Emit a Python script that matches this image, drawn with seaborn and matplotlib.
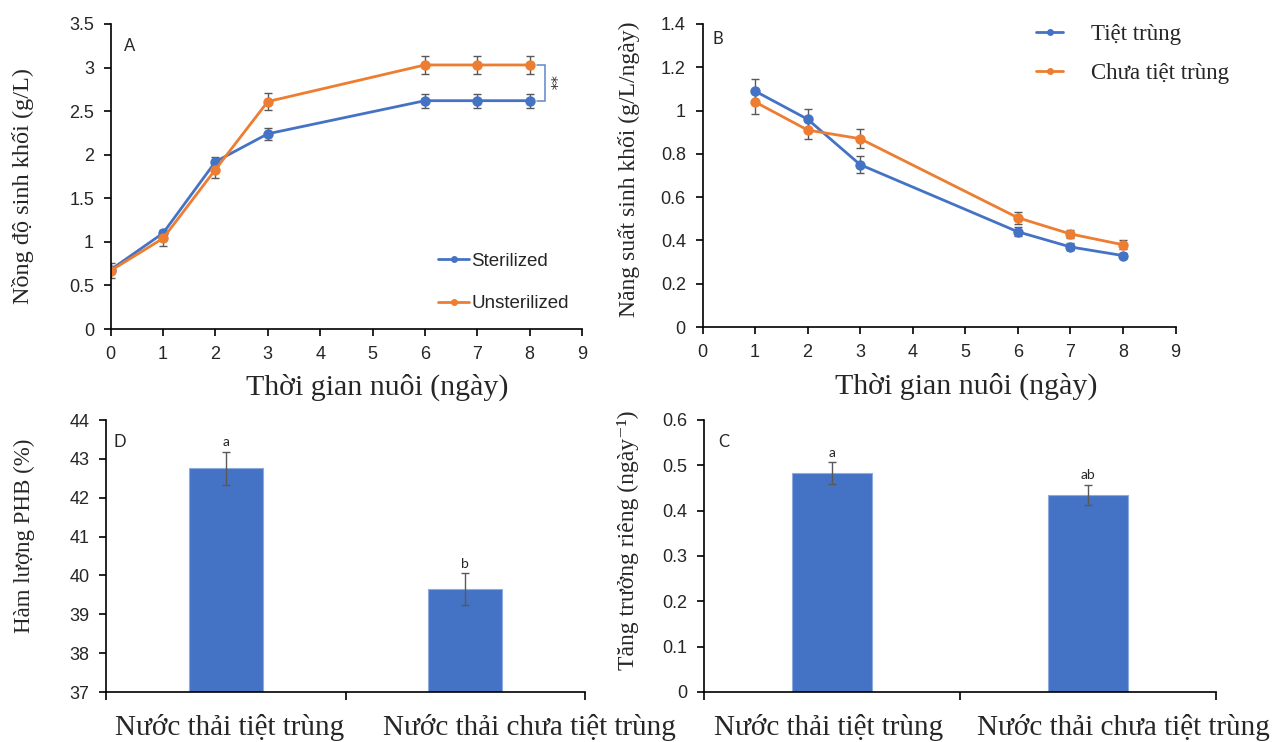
import numpy as np
import pandas as pd
import matplotlib
matplotlib.use("Agg")
import matplotlib.pyplot as plt
from matplotlib.lines import Line2D
from matplotlib.ticker import FuncFormatter, FixedLocator, NullFormatter
import seaborn as sns

# ---------------- data ----------------
days = [0, 1, 2, 3, 6, 7, 8]
biomass_sterile = [0.68, 1.10, 1.92, 2.24, 2.62, 2.62, 2.62]
biomass_sterile_err = [0.03, 0.04, 0.05, 0.07, 0.08, 0.08, 0.08]
biomass_unsterile = [0.67, 1.04, 1.83, 2.61, 3.03, 3.03, 3.03]
biomass_unsterile_err = [0.09, 0.09, 0.10, 0.10, 0.10, 0.10, 0.10]

prod_days = [1, 2, 3, 6, 7, 8]
prod_sterile = [1.09, 0.96, 0.75, 0.44, 0.37, 0.33]
prod_sterile_err = [0.055, 0.048, 0.039, 0.02, 0.016, 0.012]
prod_unsterile = [1.04, 0.91, 0.87, 0.505, 0.43, 0.38]
prod_unsterile_err = [0.054, 0.042, 0.045, 0.027, 0.02, 0.02]

treatments = ["Nước thải tiệt trùng", "Nước thải chưa tiệt trùng"]
phb = [42.76, 39.65]
phb_err = [0.42, 0.40]
phb_groups = ["a", "b"]
growth_rate = [0.483, 0.435]
growth_rate_err = [0.024, 0.022]
growth_groups = ["a", "ab"]

# ---------------- style ----------------
sns.set_style("ticks")
SANS = ["Liberation Sans", "DejaVu Sans"]
SERIF = ["Liberation Serif", "DejaVu Serif"]
LETTER = ["Lato", "DejaVu Sans"]
plt.rcParams["font.family"] = SANS
plt.rcParams["axes.linewidth"] = 1.2
plt.rcParams["axes.edgecolor"] = "black"

BLUE = "#4472C4"
ORANGE = "#ED7D31"
ERR = "#595959"

fig = plt.figure(figsize=(12.77, 7.42), dpi=100)
W, H = 1277, 742


def add_ax(left, right, top, bottom):
    return fig.add_axes([left / W, 1 - bottom / H, (right - left) / W, (bottom - top) / H])


axA = add_ax(110.7, 582, 24, 329)
axB = add_ax(702.5, 1175.5, 24, 327)
axD = add_ax(106, 585, 420, 692)
axC = add_ax(704, 1216, 420, 692)

fmt_g = FuncFormatter(lambda v, p: f"{v:g}")


def style_axes(ax):
    sns.despine(ax=ax)
    ax.tick_params(axis="both", direction="out", length=5, width=1.2, color="black",
                   labelsize=13, pad=7)


def line_panel(ax, x, y1, e1, y2, e2):
    df = pd.DataFrame({
        "day": list(x) * 2,
        "value": list(y1) + list(y2),
        "group": ["s"] * len(x) + ["u"] * len(x),
    })
    for y, e in ((y1, e1), (y2, e2)):
        ax.errorbar(x, y, yerr=e, fmt="none", ecolor=ERR, elinewidth=1,
                    capsize=3, capthick=1, zorder=1.5)
    sns.lineplot(data=df, x="day", y="value", hue="group", hue_order=["s", "u"],
                 palette=[BLUE, ORANGE], marker="o", markersize=7.5, markeredgewidth=0,
                 linewidth=2, errorbar=None, legend=False, sort=False, ax=ax)
    ax.set_xlim(0, 9)
    ax.xaxis.set_major_locator(FixedLocator(range(10)))
    ax.yaxis.set_major_formatter(fmt_g)
    ax.set_xlabel("")
    ax.set_ylabel("")
    style_axes(ax)


# ---------- Panel A: biomass concentration ----------
line_panel(axA, days, biomass_sterile, biomass_sterile_err,
           biomass_unsterile, biomass_unsterile_err)
axA.set_ylim(0, 3.5)
axA.yaxis.set_major_locator(FixedLocator(np.arange(0, 3.51, 0.5)))
axA.set_xlabel("Thời gian nuôi (ngày)", family=SERIF, fontsize=21.5)
axA.xaxis.set_label_coords(0.566, -0.145)
axA.set_ylabel("Nồng độ sinh khối (g/L)", family=SERIF, fontsize=17.5)
axA.yaxis.set_label_coords(-0.163, 0.47)
axA.text(0.028, 0.928, "A", transform=axA.transAxes, family=LETTER, fontsize=12,
         va="center", ha="left")

# significance bracket between the two plateaus
bx0, bx1 = 8.14, 8.29
yt, yb = biomass_unsterile[-1], biomass_sterile[-1]
axA.plot([bx0, bx1, bx1, bx0], [yt, yt, yb, yb], color=BLUE, lw=1.1, alpha=0.85,
         solid_joinstyle="miter", clip_on=False)
axA.text(8.38, (yt + yb) / 2, "**", rotation=270, ha="center", va="center",
         fontsize=11, family=["DejaVu Sans"], color="#333333")

legA = [Line2D([], [], color=BLUE, lw=2, marker="o", ms=5, mew=0),
        Line2D([], [], color=ORANGE, lw=2, marker="o", ms=5, mew=0)]
axA.legend(legA, ["Sterilized", "Unsterilized"], loc="upper left",
           bbox_to_anchor=(0.695, 0.25), frameon=False,
           handlelength=1.65, handletextpad=0.1, labelspacing=1.35, borderpad=0,
           borderaxespad=0, prop={"family": SANS, "size": 13.5})

# ---------- Panel B: biomass productivity ----------
line_panel(axB, prod_days, prod_sterile, prod_sterile_err,
           prod_unsterile, prod_unsterile_err)
axB.set_ylim(0, 1.4)
axB.yaxis.set_major_locator(FixedLocator(np.arange(0, 1.41, 0.2)))
axB.set_xlabel("Thời gian nuôi (ngày)", family=SERIF, fontsize=21.5)
axB.xaxis.set_label_coords(0.557, -0.15)
axB.set_ylabel("Năng suất sinh khối (g/L/ngày)", family=SERIF, fontsize=17)
axB.yaxis.set_label_coords(-0.132, 0.52)
axB.text(0.022, 0.95, "B", transform=axB.transAxes, family=LETTER, fontsize=12,
         va="center", ha="left")
legB = [Line2D([], [], color=BLUE, lw=2, marker="o", ms=5, mew=0),
        Line2D([], [], color=ORANGE, lw=2, marker="o", ms=5, mew=0)]
axB.legend(legB, ["Tiệt trùng", "Chưa tiệt trùng"], loc="upper left",
           bbox_to_anchor=(0.705, 1.0), frameon=False,
           handlelength=1.2, handletextpad=1.2, labelspacing=0.8, borderpad=0,
           borderaxespad=0, prop={"family": SERIF, "size": 16.5})


# ---------- bar panels ----------
def bar_panel(ax, vals, errs, groups, ylim, step, letter, letter_pos, label_shift):
    df = pd.DataFrame({"treatment": treatments, "value": vals})
    sns.barplot(data=df, x="treatment", y="value", color=BLUE, saturation=1,
                width=0.31, errorbar=None, edgecolor="#8FAADC", linewidth=0.8, ax=ax)
    ax.errorbar(range(len(vals)), vals, yerr=errs, fmt="none", ecolor=ERR,
                elinewidth=1, capsize=3, capthick=1, zorder=3)
    ax.set_xlim(-0.5, 1.5)
    ax.set_ylim(*ylim)
    ax.yaxis.set_major_locator(FixedLocator(np.arange(ylim[0], ylim[1] + 1e-9, step)))
    ax.yaxis.set_major_formatter(fmt_g)
    ax.xaxis.set_major_locator(FixedLocator([-0.5, 0.5, 1.5]))
    ax.xaxis.set_major_formatter(NullFormatter())
    ax.set_xlabel("")
    ax.set_ylabel("")
    style_axes(ax)
    ax.tick_params(axis="x", length=6)
    for i, name in enumerate(treatments):
        ax.annotate(name, xy=(i, 0), xycoords=ax.get_xaxis_transform(),
                    xytext=(label_shift[i], -16), textcoords="offset points",
                    ha="center", va="top", family=SERIF, fontsize=21,
                    annotation_clip=False)
    for i, (v, e, g) in enumerate(zip(vals, errs, groups)):
        ax.annotate(g, xy=(i, v + e), xytext=(0, 2.5), textcoords="offset points",
                    ha="center", va="bottom", family=LETTER, fontsize=10)
    ax.text(letter_pos[0], letter_pos[1], letter, transform=ax.transAxes,
            family=LETTER, fontsize=12, va="center", ha="left")


bar_panel(axD, phb, phb_err, phb_groups, (37, 44), 1, "D", (0.015, 0.919), (3, 46))
axD.set_ylabel("Hàm lượng PHB (%)", family=SERIF, fontsize=16.5)
axD.yaxis.set_label_coords(-0.148, 0.574)

bar_panel(axC, growth_rate, growth_rate_err, growth_groups, (0, 0.6), 0.1, "C",
          (0.027, 0.919), (-2.5, 25.5))
axC.set_ylabel("Tăng trưởng riêng (ngày⁻¹)", family=SERIF, fontsize=17)
axC.yaxis.set_label_coords(-0.127, 0.559)

fig.savefig("out.png", dpi=100)
